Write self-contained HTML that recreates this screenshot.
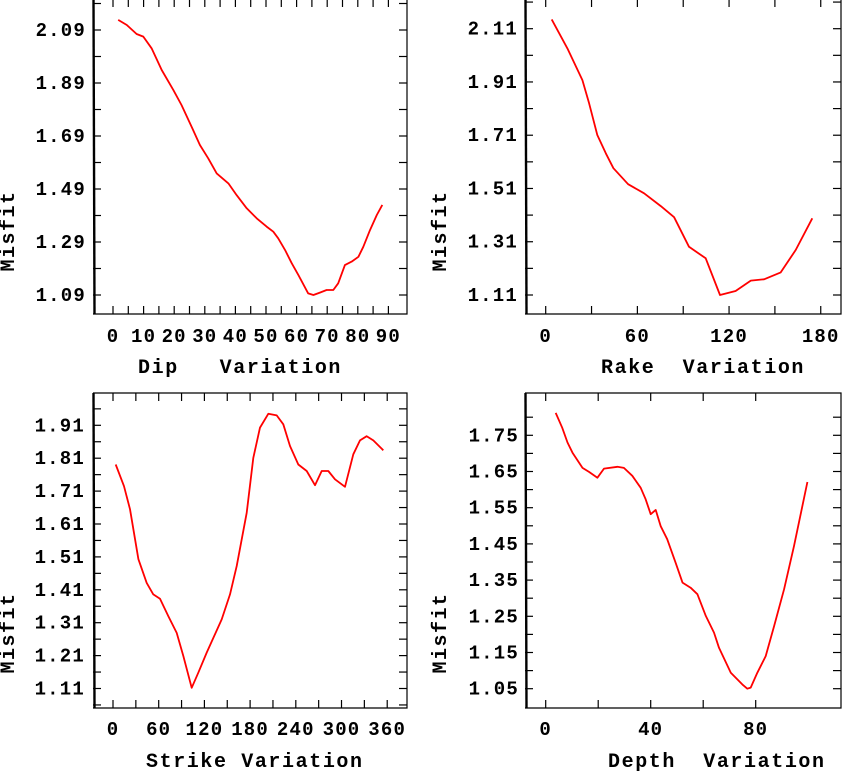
<!DOCTYPE html>
<html><head><meta charset="utf-8">
<style>
html,body{margin:0;padding:0;background:#fff;}
svg{display:block;}
text{font-family:"Liberation Mono","DejaVu Sans Mono",monospace;fill:#000;font-weight:bold;}
</style></head>
<body>
<svg id="chart" width="849" height="772" viewBox="0 0 849 772" xmlns="http://www.w3.org/2000/svg"></svg>
<script>
// Dip panel data
const dipX = [1.7,4.5,7.7,9.9,12.6,15.9,19.7,22.4,25.7,28.4,31.1,33.9,37.7,40.4,43.7,47,50.2,52.4,54,56.2,58.4,60.6,63.8,65.5,67.6,69.8,72,73.6,75.8,78,80.2,81.8,84,86.2,88];
const dipY = [2.128,2.109,2.075,2.065,2.021,1.939,1.864,1.807,1.725,1.656,1.606,1.549,1.511,1.467,1.417,1.379,1.348,1.329,1.304,1.260,1.210,1.165,1.096,1.090,1.099,1.109,1.109,1.134,1.203,1.216,1.234,1.272,1.335,1.392,1.430];
const dipYTicks = ["2.09","1.89","1.69","1.49","1.29","1.09"];
const dipXTicks = ["0","10","20","30","40","50","60","70","80","90"];
// Rake panel data
const rakeX = [3.9,14.2,24,28.4,33.8,39.3,44.3,53.9,64.4,75.3,84,93.8,104.7,114.1,124.3,134.2,142.9,153.8,163.6,174.5];
const rakeY = [2.145,2.036,1.917,1.830,1.711,1.642,1.586,1.526,1.492,1.444,1.402,1.291,1.248,1.110,1.125,1.164,1.169,1.195,1.279,1.398];
const rakeYTicks = ["2.11","1.91","1.71","1.51","1.31","1.11"];
const rakeXTicks = ["0","60","120","180"];
// Strike panel data
const strikeX = [3.5,14.4,22.3,33.3,44.2,52.9,61.7,72.6,83.6,92.3,103.3,112,123,133.9,142.7,153.6,162.4,175.5,184.2,193,203.9,214.9,223.6,232.4,243.3,254.3,265.2,274,282.7,291.5,304.6,315.5,324.3,333.1,341.8,354.9];
const strikeY = [1.791,1.725,1.655,1.503,1.431,1.396,1.383,1.330,1.279,1.209,1.112,1.158,1.219,1.275,1.320,1.396,1.482,1.644,1.811,1.903,1.945,1.940,1.913,1.847,1.791,1.771,1.728,1.771,1.771,1.746,1.723,1.822,1.864,1.877,1.864,1.834];
const strikeYTicks = ["1.91","1.81","1.71","1.61","1.51","1.41","1.31","1.21","1.11"];
const strikeXTicks = ["0","60","120","180","240","300","360"];
// Depth panel data
const depthX = [3.8,6.3,8.3,10.2,14,16.5,19.7,22.2,27.3,29.8,33,36.2,38.1,40,41.9,43.8,46.3,49.5,52.1,55.2,57.8,61,64.1,66,70.5,74.9,76.8,78.1,80.6,83.8,87,90.8,94.6,99.7];
const depthY = [1.812,1.771,1.730,1.702,1.660,1.649,1.633,1.658,1.663,1.660,1.638,1.605,1.573,1.532,1.544,1.499,1.463,1.398,1.343,1.329,1.311,1.251,1.205,1.163,1.094,1.062,1.050,1.053,1.094,1.140,1.223,1.325,1.444,1.621];
const depthYTicks = ["1.75","1.65","1.55","1.45","1.35","1.25","1.15","1.05"];
const depthXTicks = ["0","40","80"];

const NS = "http://www.w3.org/2000/svg";
const svg = document.getElementById('chart');
function mk(tag, attrs, parent){
  const e = document.createElementNS(NS, tag);
  for (const k in attrs) e.setAttribute(k, attrs[k]);
  (parent||svg).appendChild(e);
  return e;
}

function panel(cfg){
  const g = mk('g', {});
  
  
  const L=cfg.left,R=cfg.right,T=cfg.top,B=cfg.bottom;
  const sx = v => cfg.x0 + v*cfg.kx;
  const sy = v => cfg.yRefPx - (v - cfg.yRef)*cfg.ky;
  const frame = mk('path', {d:`M${L},${T}H${R}V${B}H${L}`, fill:'none', stroke:'#000', 'stroke-width':1.2}, g);
  
  
  const yax = mk('line', {x1:L+0.5,y1:T,x2:L+1.5,y2:B, stroke:'#000','stroke-width':2.4}, g);
  
  
  const step = parseFloat(cfg.yTicks[0]) - parseFloat(cfg.yTicks[1]);
  cfg.yTicks.forEach((t,i)=>{
    const v = parseFloat(t); const y = sy(v);
    mk('line',{x1:L,y1:y,x2:L+8,y2:y,stroke:'#000','stroke-width':1.2},g);
    mk('line',{x1:R-8,y1:y,x2:R,y2:y,stroke:'#000','stroke-width':1.2},g);
    const tx = mk('text',{x:cfg.ylabRight,y:y+6,'text-anchor':'end','font-size':19,'letter-spacing':1.2},g);
    tx.textContent = t;
    
    
  });
  const minors = [];
  for (let i=-1;i<cfg.yTicks.length;i++){ minors.push(parseFloat(cfg.yTicks[0]) - (i+0.5)*step); }
  minors.forEach(v=>{
    const y = sy(v);
    if (y < T+3 || y > B-3) return;
    mk('line',{x1:L,y1:y,x2:L+8,y2:y,stroke:'#000','stroke-width':1.2},g);
    mk('line',{x1:R-8,y1:y,x2:R,y2:y,stroke:'#000','stroke-width':1.2},g);
  });
  const xmax = parseFloat(cfg.xTicks[cfg.xTicks.length-1]);
  const xstep = parseFloat(cfg.xTicks[1]) - parseFloat(cfg.xTicks[0]);
  for (let v=0; v<=xmax+1e-6; v+=xstep/2){
    const x = sx(v);
    mk('line',{x1:x,y1:B,x2:x,y2:B-8,stroke:'#000','stroke-width':1.2},g);
    mk('line',{x1:x,y1:T,x2:x,y2:T+8,stroke:'#000','stroke-width':1.2},g);
  }
  cfg.xTicks.forEach(t=>{
    const x = sx(parseFloat(t));
    const tx = mk('text',{x:x,y:cfg.xlabY+6,'text-anchor':'middle','font-size':19,'letter-spacing':1.2},g);
    tx.textContent = t;
    
    
  });
  const pts = cfg.xs.map((v,i)=>sx(v).toFixed(1)+','+sy(cfg.ys[i]).toFixed(1)).join(' ');
  const pl = mk('polyline',{points:pts,fill:'none',stroke:'#ff0000','stroke-width':1.8,'stroke-linejoin':'round'},g);
  
  
  const yt = mk('text',{x:0,y:0,'text-anchor':'middle','font-size':20,'letter-spacing':1.5,transform:`translate(${cfg.ytitleX},${cfg.ytitleY}) rotate(-90)`},g);
  yt.textContent = 'Misfit';
  
  
  const xt = mk('text',{x:cfg.xtitleX,y:cfg.xtitleY+6,'font-size':20,'letter-spacing':1.6},g);
  xt.setAttribute('style','white-space:pre');
  xt.textContent = cfg.xtitle;
  
  
}

panel({name:'dip',left:93,right:407,top:-1,bottom:314,x0:113,kx:3.06,yRef:2.09,yRefPx:30,ky:265,
  yTicks:dipYTicks,xTicks:dipXTicks,xs:dipX,ys:dipY,ylabRight:86,xlabY:336,
  ytitleX:14,ytitleY:231,xtitle:'Dip   Variation',xtitleX:138,xtitleY:367});
panel({name:'rake',left:525,right:841,top:-1,bottom:314,x0:545.7,kx:1.528,yRef:2.11,yRefPx:28.7,ky:266.3,
  yTicks:rakeYTicks,xTicks:rakeXTicks,xs:rakeX,ys:rakeY,ylabRight:518,xlabY:336,
  ytitleX:446,ytitleY:231,xtitle:'Rake  Variation',xtitleX:601,xtitleY:367});
panel({name:'strike',left:93,right:407,top:393,bottom:708,x0:113,kx:0.7617,yRef:1.91,yRefPx:425.3,ky:329,
  yTicks:strikeYTicks,xTicks:strikeXTicks,xs:strikeX,ys:strikeY,ylabRight:85,xlabY:729,
  ytitleX:14,ytitleY:633,xtitle:'Strike Variation',xtitleX:146,xtitleY:761});
panel({name:'depth',left:525,right:841,top:393,bottom:708,x0:545.7,kx:2.625,yRef:1.75,yRefPx:435.3,ky:362,
  yTicks:depthYTicks,xTicks:depthXTicks,xs:depthX,ys:depthY,ylabRight:519,xlabY:729,
  ytitleX:446,ytitleY:633,xtitle:'Depth  Variation',xtitleX:608,xtitleY:761});
</script>
</body></html>
